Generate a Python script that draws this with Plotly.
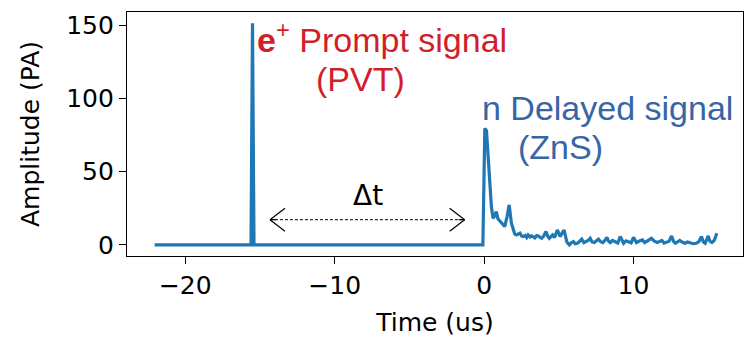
import plotly.graph_objects as go

# ---- data ----
time_us = [-22.05, -15.6, -15.5, -15.4, -0.08,
           0.05, 0.16, 0.34, 0.49, 0.6, 0.7, 0.82, 0.92, 1.0, 1.16, 1.3, 1.38, 1.54, 1.68, 1.83, 1.95,
           2.05, 2.17, 2.28, 2.4, 2.52, 2.62, 2.75, 2.85, 2.95, 3.07, 3.18, 3.29, 3.4, 3.52, 3.63, 3.74, 3.85,
           3.98, 4.14, 4.26, 4.37, 4.48, 4.59, 4.72, 4.9, 5.0, 5.08, 5.2, 5.35, 5.45, 5.53, 5.62, 5.71,
           5.85, 5.98, 6.1, 6.25, 6.4, 6.54, 6.68, 6.83, 6.96, 7.1, 7.23, 7.37, 7.5, 7.66, 7.8, 7.95,
           8.08, 8.22, 8.33, 8.44, 8.6, 8.78, 8.95, 9.11, 9.22, 9.34, 9.5, 9.67, 9.84, 10.0, 10.1, 10.2,
           10.4, 10.6, 10.75, 10.9, 11.05, 11.2, 11.4, 11.6, 11.75, 11.9, 12.05, 12.2, 12.38, 12.55, 12.68,
           12.8, 12.95, 13.1, 13.28, 13.45, 13.62, 13.8, 14.0, 14.2, 14.38, 14.55, 14.68, 14.8, 14.9,
           15.0, 15.12, 15.25, 15.4, 15.58]
amplitude_pa = [0, 0, 151.3, 0, 0,
                79.5, 78.0, 51.0, 26.0, 18.2, 19.5, 22.7, 18.0, 17.0, 14.8, 13.5, 12.5, 19.3, 27.3, 14.8, 10.2,
                7.5, 6.8, 7.2, 8.0, 6.0, 5.7, 6.5, 5.0, 6.8, 5.5, 6.2, 5.7, 4.8, 6.4, 6.1, 5.2, 4.5,
                5.8, 9.1, 6.0, 4.5, 5.6, 6.8, 5.0, 10.2, 8.0, 5.7, 7.5, 10.2, 6.0, 2.3, 1.0, 0,
                1.5, 2.3, 0.8, 1.1, 2.5, 3.9, 1.5, 2.3, 3.0, 4.5, 2.0, 1.6, 2.6, 3.9, 2.2, 1.6,
                3.0, 5.2, 2.5, 1.6, 3.0, 2.3, 1.3, 5.7, 3.0, 1.1, 2.8, 2.3, 1.4, 5.2, 3.0, 1.6,
                2.6, 3.4, 1.5, 2.3, 3.3, 4.5, 2.5, 1.6, 2.4, 3.0, 1.2, 1.6, 2.5, 6.1, 2.4,
                1.1, 2.0, 3.0, 1.8, 1.1, 2.0, 1.6, 0.8, 1.1, 2.2, 5.7, 2.0, 1.1, 3.5,
                6.1, 2.5, 1.6, 3.0, 8.0]

x_ticks = [-20, -10, 0, 10]
y_ticks = [0, 50, 100, 150]

# Δt interval marker (data units) 
dt_start, dt_end, dt_level = -14.33, -1.30, 17.2

LINE_BLUE = "#1f77b4"
RED = "#d11f2a"
TEXT_BLUE = "#3765a5"
TICK_FONT = dict(family="DejaVu Sans", size=25, color="black")
ANN_FONT = "Liberation Sans"

fig = go.Figure()
fig.add_trace(go.Scatter(x=time_us, y=amplitude_pa, mode="lines",
                         line=dict(color=LINE_BLUE, width=3.2), hoverinfo="skip"))

# dashed double-arrow line
fig.add_shape(type="line", xref="x", yref="y", x0=dt_start, x1=dt_end, y0=dt_level, y1=dt_level,
              line=dict(color="black", width=1, dash="3px,2px"))
# open chevron arrow heads, sized in pixels
for tip, sign in [(dt_start, 1), (dt_end, -1)]:
    fig.add_shape(type="line", xref="x", yref="y", xsizemode="pixel", ysizemode="pixel",
                  xanchor=tip, yanchor=dt_level, x0=0, x1=sign * 6, y0=0, y1=0,
                  line=dict(color="black", width=1.2))
    for dy in (11.5, -11.5):
        fig.add_shape(type="line", xref="x", yref="y", xsizemode="pixel", ysizemode="pixel",
                      xanchor=tip, yanchor=dt_level, x0=0, x1=sign * 15, y0=0, y1=dy,
                      line=dict(color="black", width=1.2))

fig.add_annotation(x=-7.8, y=34, xref="x", yref="y", text="Δt", showarrow=False,
                   font=dict(family="DejaVu Sans", size=28, color="black"),
                   xanchor="center", yanchor="middle")

fig.add_annotation(x=-15.3, y=141.5, xref="x", yref="y",
                   text="<b>e</b><sup>+</sup> Prompt signal", showarrow=False,
                   font=dict(family=ANN_FONT, size=34, color=RED),
                   xanchor="left", yanchor="middle")
fig.add_annotation(x=-8.28, y=113, xref="x", yref="y", text="(PVT)", showarrow=False,
                   font=dict(family=ANN_FONT, size=34, color=RED),
                   xanchor="center", yanchor="middle")
fig.add_annotation(x=-0.3, y=93.5, xref="x", yref="y", text="n Delayed signal", showarrow=False,
                   font=dict(family=ANN_FONT, size=34, color=TEXT_BLUE),
                   xanchor="left", yanchor="middle")
fig.add_annotation(x=5.14, y=67, xref="x", yref="y", text="(ZnS)", showarrow=False,
                   font=dict(family=ANN_FONT, size=34, color=TEXT_BLUE),
                   xanchor="center", yanchor="middle")

axis_common = dict(showline=True, mirror=True, linecolor="black", linewidth=1.3,
                   ticks="outside", ticklen=7, tickwidth=1.3, tickcolor="black",
                   showgrid=False, zeroline=False, tickfont=TICK_FONT, automargin=False)

fig.update_xaxes(range=[-23.9, 17.33], tickvals=x_ticks,
                 title=dict(text="Time (us)", font=TICK_FONT, standoff=15), **axis_common)
fig.update_yaxes(range=[-7.57, 158.9], tickvals=y_ticks,
                 title=dict(text="Amplitude (PA)", font=TICK_FONT, standoff=19), **axis_common)

fig.update_layout(width=750, height=337, margin=dict(l=127, r=7, t=12, b=81),
                  plot_bgcolor="white", paper_bgcolor="white", showlegend=False)

fig.write_html("out.html")
